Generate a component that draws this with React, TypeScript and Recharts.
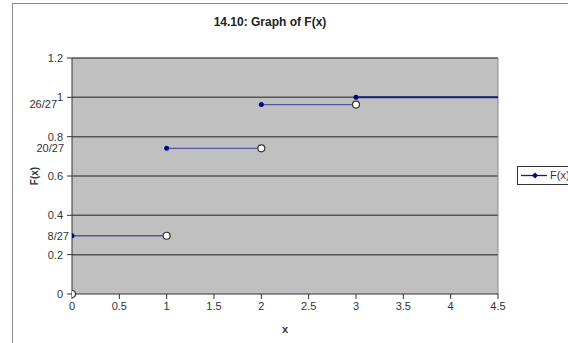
import {
  ComposedChart,
  Line,
  Scatter,
  XAxis,
  YAxis,
  CartesianGrid,
  ReferenceLine,
} from "recharts";

// step function F(x): each level holds from its start (filled) to its end (open)
const stepStarts = [0, 1, 2, 3];
const stepEnds = [1, 2, 3, 4.5];
const stepLevels = [8 / 27, 20 / 27, 26 / 27, 1];

const openX = [0, 1, 2, 3];
const openY = [0, 8 / 27, 20 / 27, 26 / 27];

const xTicks = [0, 0.5, 1, 1.5, 2, 2.5, 3, 3.5, 4, 4.5];
const yTicks = [0, 0.2, 0.4, 0.6, 0.8, 1, 1.2];
const fracTicks = [8 / 27, 20 / 27, 26 / 27];
const fracLabels = ["8/27", "20/27", "26/27"];

const segments = stepStarts.map((s, i) => [
  { x: s, y: stepLevels[i] },
  { x: stepEnds[i], y: stepLevels[i] },
]);
const filledPoints = stepStarts.map((s, i) => ({ x: s, y: stepLevels[i] }));
const openPoints = openX.map((x, i) => ({ x, y: openY[i] }));

const TEXT = "#333";
const NAVY = "#1c1c7c";

function YTick(props: any) {
  const { x, y, payload } = props;
  const i = fracTicks.findIndex((f) => Math.abs(f - payload.value) < 1e-6);
  if (i >= 0) {
    const shift = [6, 1, -6][i];
    return (
      <text x={x + shift} y={y} dy="0.35em" textAnchor="end" fontSize={11} fill={TEXT}>
        {fracLabels[i]}
      </text>
    );
  }
  return (
    <g>
      <line x1={x + 4} x2={x + 9} y1={y} y2={y} stroke={TEXT} />
      <text x={x} y={y} dy="0.35em" textAnchor="end" fontSize={11} fill={TEXT}>
        {String(payload.value)}
      </text>
    </g>
  );
}

function YLabel(props: any) {
  const vb = props.viewBox || { y: 58, height: 236 };
  const cy = vb.y + vb.height / 2;
  return (
    <text
      x={34}
      y={cy}
      transform={`rotate(-90 34 ${cy})`}
      textAnchor="middle"
      dominantBaseline="central"
      fontSize={10}
      fontWeight="bold"
      fill={TEXT}
    >
      F(x)
    </text>
  );
}

const FilledDot = (props: any) => (
  <circle cx={props.cx} cy={props.cy} r={2.5} fill="#000080" />
);

const OpenDot = (props: any) => (
  <circle cx={props.cx} cy={props.cy} r={3.5} fill="#fff" stroke="#333" strokeWidth={1.2} />
);

export default function App() {
  const allYTicks = [...yTicks, ...fracTicks].sort((a, b) => a - b);
  return (
    <div
      style={{
        position: "absolute",
        left: 0,
        top: 0,
        width: 568,
        height: 343,
        overflow: "hidden",
        background: "#fff",
        fontFamily: "'Liberation Sans', Arial, sans-serif",
      }}
    >
      <div
        style={{
          position: "absolute",
          left: 12,
          top: 3,
          width: 640,
          height: 400,
          border: "1px solid #8c8c8c",
        }}
      />
      <div
        style={{
          position: "absolute",
          left: 170,
          width: 200,
          top: 15,
          textAlign: "center",
          fontSize: 12,
          fontWeight: "bold",
          color: "#222",
        }}
      >
        14.10: Graph of F(x)
      </div>
      <ComposedChart
        width={568}
        height={343}
        margin={{ top: 58, right: 70, bottom: 0, left: 0 }}
        style={{ position: "absolute", left: 0, top: 0 }}
      >
        <CartesianGrid
          vertical={false}
          horizontalValues={yTicks.slice(1)}
          fill="#c0c0c0"
          fillOpacity={1}
          stroke="#555"
          strokeWidth={1.5}
        />
        <XAxis
          type="number"
          dataKey="x"
          domain={[0, 4.5]}
          ticks={xTicks}
          allowDataOverflow
          height={49}
          tickSize={5}
          tickMargin={3}
          stroke={TEXT}
          tick={{ fill: TEXT, fontSize: 11 }}
          label={{ value: "x", position: "insideBottom", offset: 10, fill: TEXT, fontSize: 11, fontWeight: "bold" }}
        />
        <YAxis
          type="number"
          dataKey="y"
          domain={[0, 1.2]}
          ticks={allYTicks}
          interval={0}
          width={72}
          tickSize={5}
          tickMargin={4}
          tickLine={false}
          stroke={TEXT}
          tick={<YTick />}
          label={<YLabel />}
        />
        <ReferenceLine x={4.5} stroke="#8a8a8a" />
        {segments.map((seg, i) => (
          <Line
            key={`seg-${i}`}
            data={seg}
            dataKey="y"
            type="linear"
            stroke={i === 3 ? NAVY : "#5555a0"}
            strokeWidth={i === 3 ? 2 : 1.3}
            dot={false}
            activeDot={false}
            isAnimationActive={false}
          />
        ))}
        <Scatter data={openPoints} dataKey="y" shape={<OpenDot />} isAnimationActive={false} />
        <Scatter data={filledPoints} dataKey="y" shape={<FilledDot />} isAnimationActive={false} />
      </ComposedChart>
      <div
        style={{
          position: "absolute",
          left: 517,
          top: 166,
          width: 80,
          height: 17,
          border: "1px solid #333",
          background: "#fff",
        }}
      >
        <svg width={30} height={17} style={{ position: "absolute", left: 3, top: 0 }}>
          <line x1={0} x2={26} y1={8.5} y2={8.5} stroke={NAVY} strokeWidth={1.3} />
          <path d="M14 5.5 L17 8.5 L14 11.5 L11 8.5 Z" fill="#000080" />
        </svg>
        <span
          style={{
            position: "absolute",
            left: 32,
            top: 2,
            fontSize: 11,
            color: TEXT,
          }}
        >
          F(x)
        </span>
      </div>
    </div>
  );
}
